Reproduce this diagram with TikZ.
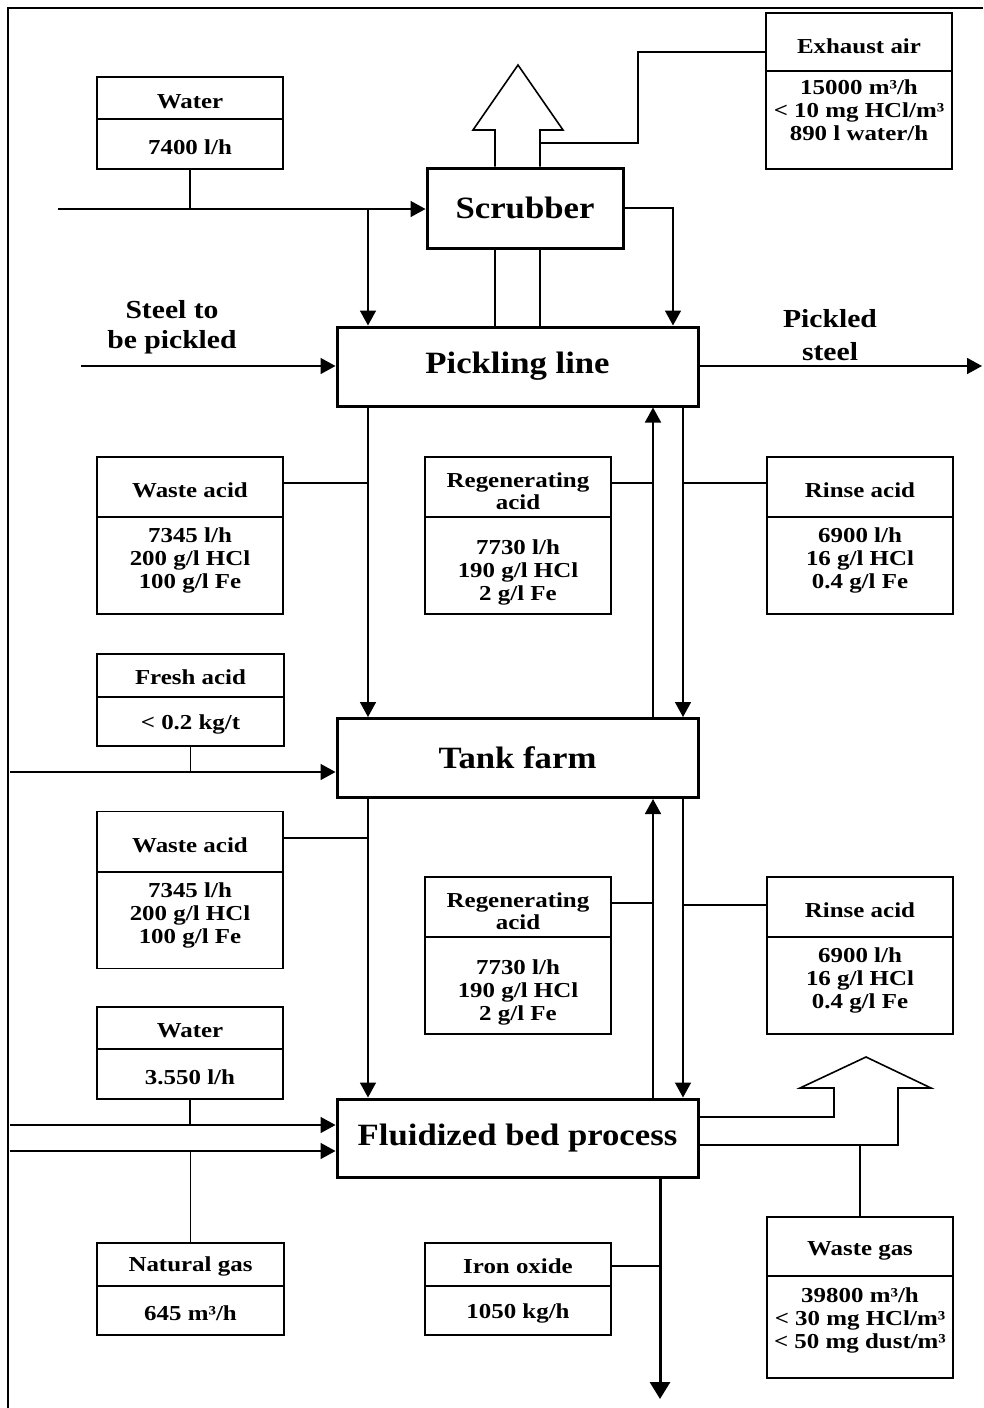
\documentclass[tikz,border=0pt]{standalone}
\usepackage{fontspec}
\setmainfont{Liberation Serif}
\newfontfamily\sfam[FakeStretch=1.17]{Liberation Serif}
\newfontfamily\bfam[FakeStretch=1.12]{Liberation Serif}
\newfontfamily\mfam[FakeStretch=1.14]{Liberation Serif}
\usetikzlibrary{arrows.meta}
\newcommand\ibx[6]{%
  \node[ibox,minimum width=#4,minimum height=#5] (#1) at (#2,#3) {};
  \draw[dv] (#1.west |- 0,#6) -- (#1.east |- 0,#6);}
\begin{document}
\begin{tikzpicture}[x=1pt,y=-1pt,
  conn/.style={line width=1.6pt},
  arr/.style={conn,-{Triangle[length=15pt,width=16pt]}},
  ibox/.style={draw,line width=1.6pt,inner sep=0pt},
  pbox/.style={draw,line width=3pt,inner sep=0pt,minimum width=361pt,minimum height=79pt,font=\bfam\bfseries\fontsize{31}{34}\selectfont},
  stxt/.style={inner sep=0pt,align=center,font=\sfam\bfseries\fontsize{21.3}{23}\selectfont},
  ttxt/.style={inner sep=0pt,align=center,font=\sfam\bfseries\fontsize{21.3}{22}\selectfont},
  mtxt/.style={inner sep=0pt,align=center,font=\mfam\bfseries\fontsize{26}{30}\selectfont},
  dv/.style={line width=1.5pt}
]
\useasboundingbox (0,0) rectangle (983,1408);
\draw[line width=2pt] (983,8) -- (8,8) -- (8,1408);

% process boxes
\node[pbox,minimum width=196pt,minimum height=80pt] (scrub) at (525,208) {Scrubber};
\node[pbox] (pick) at (517.5,366.5) {Pickling line};
\node[pbox] (tank) at (517.5,758) {Tank farm};
\node[pbox,minimum height=78pt] (fluid) at (517.5,1138) {Fluidized bed process};

% info boxes
\ibx{water1}{190}{123}{186}{92}{119}
\node[stxt] (water1t) at (190,102) {Water};
\node[stxt] (water1b) at (190,147) {7400 l/h};

\ibx{exhaust}{859}{91}{186}{156}{71}
\node[stxt] (exhaustt) at (859,46) {Exhaust air};
\node[stxt] (exhaustb) at (859,110) {15000 m³/h\\< 10 mg HCl/m³\\890 l water/h};

\ibx{waste1}{190}{535.5}{186}{157}{517}
\node[stxt] (waste1t) at (190,490) {Waste acid};
\node[stxt] (waste1b) at (190,560) {7345 l/h\\200 g/l HCl\\100 g/l Fe};

\ibx{regen1}{518}{535.5}{186}{157}{517}
\node[ttxt] (regen1t) at (518,491) {Regenerating\\acid};
\node[stxt] (regen1b) at (518,572) {7730 l/h\\190 g/l HCl\\2 g/l Fe};

\ibx{rinse1}{860}{535.5}{186}{157}{517}
\node[stxt] (rinse1t) at (860,490) {Rinse acid};
\node[stxt] (rinse1b) at (860,560) {6900 l/h\\16 g/l HCl\\0.4 g/l Fe};

\ibx{fresh}{190.5}{700}{187}{92}{697}
\node[stxt] (fresht) at (190.5,677) {Fresh acid};
\node[stxt] (freshb) at (190.5,724) {< 0.2 kg/t};

\ibx{waste2}{190}{890}{186}{157}{872}
\node[stxt] (waste2t) at (190,845) {Waste acid};
\node[stxt] (waste2b) at (190,915) {7345 l/h\\200 g/l HCl\\100 g/l Fe};

\ibx{regen2}{518}{955.5}{186}{157}{937}
\node[ttxt] (regen2t) at (518,911) {Regenerating\\acid};
\node[stxt] (regen2b) at (518,992) {7730 l/h\\190 g/l HCl\\2 g/l Fe};

\ibx{rinse2}{860}{955.5}{186}{157}{937}
\node[stxt] (rinse2t) at (860,910) {Rinse acid};
\node[stxt] (rinse2b) at (860,980) {6900 l/h\\16 g/l HCl\\0.4 g/l Fe};

\ibx{water2}{190}{1053}{186}{92}{1049}
\node[stxt] (water2t) at (190,1031) {Water};
\node[stxt] (water2b) at (190,1077) {3.550 l/h};

\ibx{natgas}{190.5}{1289}{187}{92}{1286}
\node[stxt] (natgast) at (190.5,1266) {Natural gas};
\node[stxt] (natgasb) at (190.5,1313) {645 m³/h};

\ibx{iron}{518}{1289}{186}{92}{1286}
\node[stxt] (iront) at (518,1266) {Iron oxide};
\node[stxt] (ironb) at (518,1313) {1050 kg/h};

\ibx{wastegas}{860}{1297.5}{186}{161}{1276}
\node[stxt] (wastegast) at (860,1251) {Waste gas};
\node[stxt] (wastegasb) at (860,1320) {39800 m³/h\\< 30 mg HCl/m³\\< 50 mg dust/m³};

% free labels
\node[mtxt] (steelin) at (172,327) {Steel to\\be pickled};
\node[inner sep=0pt,align=center,font=\mfam\bfseries\fontsize{26}{33}\selectfont] (steelout) at (830,335) {Pickled\\steel};

% scrubber region
\coordinate (wIn) at (58,209);
\coordinate (j1) at (368,209);
\draw[arr] (wIn) -- (scrub.west |- wIn);
\draw[conn] (water1.south) -- (water1.south |- wIn);
\draw[arr] (j1) -- (j1 |- pick.north);
\draw[arr] (scrub.east) -| (pick.north -| 673,0);
\draw[conn] (scrub.south -| 495,0) -- (pick.north -| 495,0);
\draw[conn] (scrub.south -| 540,0) -- (pick.north -| 540,0);
\draw[conn,line join=miter] (scrub.north -| 495,0) -- (495,130) -- (473,130) -- (518,65) -- (563,130) -- (540,130) -- (scrub.north -| 540,0);
\draw[conn] (540,143) -- (638,143) -- (638,52) -- (exhaust.west |- 0,52);

% pickling line
\draw[arr] (81,366) -- (pick.west |- 0,366);
\draw[arr] (pick.east |- 0,366) -- (982,366);
\draw[arr] (pick.south -| 368,0) -- (tank.north -| 368,0);
\draw[arr] (tank.north -| 653,0) -- (pick.south -| 653,0);
\draw[arr] (pick.south -| 683,0) -- (tank.north -| 683,0);
\draw[conn] (waste1.east |- 0,483) -- (368,483);
\draw[conn] (regen1.east |- 0,483) -- (653,483);
\draw[conn] (rinse1.west |- 0,483) -- (683,483);

% tank farm
\draw[conn] (fresh.south) -- (fresh.south |- 0,772);
\draw[arr] (10,772) -- (tank.west |- 0,772);
\draw[arr] (tank.south -| 368,0) -- (fluid.north -| 368,0);
\draw[arr] (fluid.north -| 653,0) -- (tank.south -| 653,0);
\draw[arr] (tank.south -| 683,0) -- (fluid.north -| 683,0);
\draw[conn] (waste2.east |- 0,838) -- (368,838);
\draw[conn] (regen2.east |- 0,903) -- (653,903);
\draw[conn] (rinse2.west |- 0,905) -- (683,905);

% fluidized bed
\draw[conn] (water2.south) -- (water2.south |- 0,1125);
\draw[conn] (natgas.north) -- (natgas.north |- 0,1151);
\draw[arr] (10,1125) -- (fluid.west |- 0,1125);
\draw[arr] (10,1151) -- (fluid.west |- 0,1151);
\draw[conn,line join=miter] (fluid.east |- 0,1117) -- (834,1117) -- (834,1088) -- (800,1088) -- (866,1057) -- (931,1088) -- (898,1088) -- (898,1145) -- (fluid.east |- 0,1145);
\draw[conn] (wastegas.north) -- (wastegas.north |- 0,1145);
\draw[line width=3pt,-{Triangle[length=17pt,width=20pt]}] (fluid.south -| 660,0) -- (660,1399);
\draw[conn] (iron.east |- 0,1266) -- (660,1266);
\end{tikzpicture}
\end{document}
